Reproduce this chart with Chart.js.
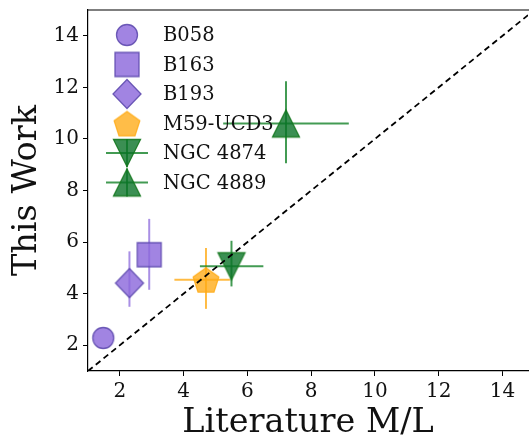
<!DOCTYPE html>
<html>
<head>
<meta charset="utf-8">
<script src="https://cdn.jsdelivr.net/npm/chart.js@4.4.0/dist/chart.umd.min.js"></script>
<style>
  html,body{margin:0;padding:0;background:#fff;}
  #wrap{width:529px;height:437px;position:relative;}
</style>
</head>
<body>
<div id="wrap"><canvas id="c"></canvas></div>
<script>
// data
const names   = ['B058', 'B163', 'B193', 'M59-UCD3', 'NGC 4874', 'NGC 4889'];
const litML   = [1.48, 2.92, 2.30, 4.70, 5.50, 7.21];
const thisML  = [2.28, 5.51, 4.41, 4.54, 5.06, 10.60];
const xErrLo  = [0.00, 0.00, 0.00, 0.99, 0.99, 1.97];
const xErrHi  = [0.00, 0.00, 0.00, 0.75, 1.00, 1.97];
const yErrLo  = [0.00, 1.36, 0.92, 1.13, 0.78, 1.54];
const yErrHi  = [0.00, 1.39, 1.23, 1.23, 0.99, 1.64];
const shapes  = ['circle', 'square', 'diamond', 'pentagon', 'tridown', 'triup'];
const xTicks  = [2, 4, 6, 8, 10, 12, 14];
const yTicks  = [2, 4, 6, 8, 10, 12, 14];

const PURPLE = {fill:'rgba(140,105,220,0.82)', edge:'rgba(95,75,175,0.9)', err:'rgba(140,105,220,0.75)'};
const ORANGE = {fill:'rgba(255,170,20,0.78)', edge:'rgba(255,170,20,0.85)', err:'rgba(255,170,20,0.8)'};
const GREEN  = {fill:'rgba(10,115,40,0.8)', edge:'rgba(20,120,30,0.9)', err:'rgba(20,130,40,0.8)'};
const colors = [PURPLE, PURPLE, PURPLE, ORANGE, GREEN, GREEN];

// build a marker image (matplotlib-like shapes)
function makeMarker(shape, col){
  const s = 34, c = s/2;
  const cv = document.createElement('canvas');
  cv.width = s; cv.height = s;
  const g = cv.getContext('2d');
  g.beginPath();
  if(shape==='circle'){ g.arc(c, c, 10.5, 0, Math.PI*2); }
  else if(shape==='square'){ g.rect(c-12, c-12, 24, 24); }
  else if(shape==='diamond'){ g.moveTo(c, c-14.5); g.lineTo(c+14, c); g.lineTo(c, c+14.5); g.lineTo(c-14, c); g.closePath(); }
  else if(shape==='pentagon'){
    for(let i=0;i<5;i++){
      const a = -Math.PI/2 + i*2*Math.PI/5;
      const px = c + Math.cos(a)*13.5, py = c + 1.5 + Math.sin(a)*13.5;
      if(i===0) g.moveTo(px,py); else g.lineTo(px,py);
    }
    g.closePath();
  }
  else if(shape==='triup'){ g.moveTo(c, c-13.5); g.lineTo(c+13.5, c+13.5); g.lineTo(c-13.5, c+13.5); g.closePath(); }
  else if(shape==='tridown'){ g.moveTo(c, c+13.5); g.lineTo(c+13.5, c-13.5); g.lineTo(c-13.5, c-13.5); g.closePath(); }
  g.fillStyle = col.fill; g.fill();
  g.lineWidth = 1.3; g.strokeStyle = col.edge; g.stroke();
  return cv;
}
const markers = shapes.map((s,i)=>makeMarker(s, colors[i]));

const datasets = names.map((n,i)=>({
  label: n,
  data: [{x: litML[i], y: thisML[i]}],
  pointStyle: markers[i],
  order: 1
}));
datasets.push({
  label: 'one-to-one',
  type: 'line',
  data: [{x:1, y:1}, {x:15, y:15}],
  borderColor: '#000',
  borderWidth: 1.8,
  borderDash: [6, 4],
  pointRadius: 0,
  fill: false,
  order: 0
});

const errorBars = {
  id: 'errorBars',
  beforeDatasetsDraw(chart){
    const {ctx, scales:{x, y}, chartArea:a} = chart;
    ctx.save();
    ctx.beginPath(); ctx.rect(a.left, a.top, a.right-a.left, a.bottom-a.top); ctx.clip();
    ctx.lineWidth = 2;
    names.forEach((n,i)=>{
      ctx.strokeStyle = colors[i].err;
      const px = x.getPixelForValue(litML[i]), py = y.getPixelForValue(thisML[i]);
      if(xErrLo[i] || xErrHi[i]){
        ctx.beginPath();
        ctx.moveTo(x.getPixelForValue(litML[i]-xErrLo[i]), py);
        ctx.lineTo(x.getPixelForValue(litML[i]+xErrHi[i]), py);
        ctx.stroke();
      }
      if(yErrLo[i] || yErrHi[i]){
        ctx.beginPath();
        ctx.moveTo(px, y.getPixelForValue(thisML[i]-yErrLo[i]));
        ctx.lineTo(px, y.getPixelForValue(thisML[i]+yErrHi[i]));
        ctx.stroke();
      }
    });
    ctx.restore();
  }
};

const legendBox = {
  id: 'legendBox',
  afterDraw(chart){
    const ctx = chart.ctx, a = chart.chartArea;
    ctx.save();
    // top spine
    ctx.strokeStyle = '#000'; ctx.lineWidth = 1.2;
    ctx.beginPath(); ctx.moveTo(a.left, a.top); ctx.lineTo(chart.width, a.top); ctx.stroke();
    ctx.font = '19.5px "DejaVu Serif"';
    ctx.fillStyle = '#111';
    ctx.textBaseline = 'middle';
    names.forEach((n,i)=>{
      const yy = 35 + i*29.5, xx = 127;
      if(i>=4){
        ctx.strokeStyle = colors[i].err; ctx.lineWidth = 2;
        ctx.beginPath(); ctx.moveTo(xx-21, yy); ctx.lineTo(xx+21, yy); ctx.stroke();
        ctx.beginPath(); ctx.moveTo(xx, yy-14); ctx.lineTo(xx, yy+14); ctx.stroke();
      }
      ctx.drawImage(markers[i], xx-17, yy-17);
      ctx.fillText(n, 163, yy+1);
    });
    ctx.restore();
  }
};

function noPad(s){ s.paddingTop = 0; s.paddingBottom = 0; s.paddingLeft = 0; s.paddingRight = 0; }

new Chart(document.getElementById('c'), {
  type: 'scatter',
  data: {datasets},
  plugins: [errorBars, legendBox],
  options: {
    responsive: true,
    maintainAspectRatio: false,
    animation: false,
    layout: {autoPadding: false, padding: {top: 10, right: 1, left: 0, bottom: 0}},
    plugins: {legend: {display: false}, tooltip: {enabled: false}},
    scales: {
      x: {
        type: 'linear', min: 1, max: 14.8,
        afterBuildTicks(s){ s.ticks = xTicks.map(v=>({value:v})); },
        afterFit(s){ s.height = 66; noPad(s); },
        grid: {drawOnChartArea: false, tickLength: 5, color: '#000', tickColor: '#000'},
        border: {color: '#000', width: 1.2},
        ticks: {color: '#111', font: {family: 'DejaVu Serif', size: 20}, padding: 4, maxRotation: 0},
        title: {display: true, text: 'Literature M/L', color: '#111', font: {family: 'DejaVu Serif', size: 33.5}, padding: {top: 0, bottom: -6}}
      },
      y: {
        type: 'linear', min: 1, max: 15,
        afterBuildTicks(s){ s.ticks = yTicks.map(v=>({value:v})); },
        afterFit(s){ s.width = 88; noPad(s); },
        grid: {drawOnChartArea: false, tickLength: 5, color: '#000', tickColor: '#000'},
        border: {color: '#000', width: 1.2},
        ticks: {color: '#111', font: {family: 'DejaVu Serif', size: 20}, padding: 4},
        title: {display: true, text: 'This Work', color: '#111', font: {family: 'DejaVu Serif', size: 33.5}, padding: {top: 7, bottom: 2}}
      }
    }
  }
});
</script>
</body>
</html>
